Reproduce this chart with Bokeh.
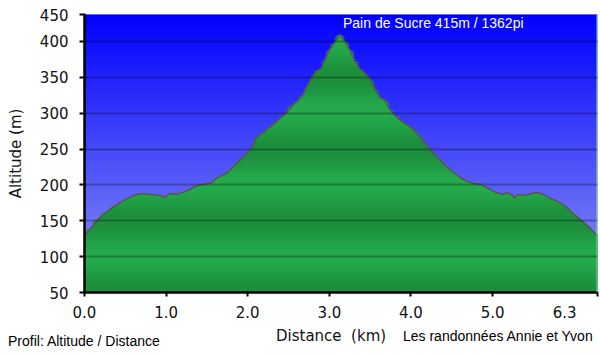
import numpy as np
from bokeh.plotting import figure
from bokeh.layouts import column
from bokeh.models import Range1d, FixedTicker, Label, Span, Div
from bokeh.embed import file_html
from bokeh.resources import INLINE

# ---------------- data ----------------
distance_km = [0.00, 0.08, 0.17, 0.28, 0.38, 0.46, 0.54, 0.62, 0.69, 0.79,
               0.88, 0.95, 0.99, 1.03, 1.06, 1.12, 1.16, 1.24, 1.31, 1.38,
               1.47, 1.56, 1.61, 1.70, 1.77, 1.85, 1.93, 2.00, 2.06, 2.10,
               2.17, 2.23, 2.30, 2.37, 2.43, 2.47, 2.55, 2.62, 2.68, 2.72,
               2.76, 2.80, 2.84, 2.90, 2.95, 3.00, 3.06, 3.13, 3.19, 3.25,
               3.31, 3.37, 3.44, 3.50, 3.56, 3.62, 3.68, 3.74, 3.80, 3.87,
               3.93, 3.99, 4.05, 4.11, 4.17, 4.22, 4.27, 4.32, 4.38, 4.44,
               4.50, 4.56, 4.62, 4.69, 4.77, 4.85, 4.92, 4.98, 5.05, 5.12,
               5.18, 5.24, 5.27, 5.30, 5.38, 5.45, 5.53, 5.59, 5.65, 5.71,
               5.78, 5.84, 5.90, 5.96, 6.02, 6.08, 6.15, 6.21, 6.25, 6.29]
altitude_m = [130, 140, 152, 163, 171, 177, 182, 186, 188, 187,
              186, 185, 182, 187, 188, 187, 188, 191, 195, 199,
              201, 203, 209, 214, 219, 228, 237, 245, 254, 265,
              271, 277, 283, 290, 296, 300, 311, 318, 326, 336,
              344, 352, 359, 362, 375, 388, 398, 410, 400, 388,
              373, 362, 355, 347, 333, 322, 318, 305, 297, 290,
              285, 281, 275, 267, 258, 251, 245, 239, 232, 225,
              219, 214, 209, 205, 202, 201, 197, 193, 189, 187,
              189, 186, 182, 186, 186, 187, 189, 188, 185, 181,
              178, 174, 169, 163, 157, 151, 144, 138, 133, 129]

x_ticks = [0, 1, 2, 3, 4, 5]
x_tick_labels = ["0.0", "1.0", "2.0", "3.0", "4.0", "5.0"]
x_end = 6.285
x_end_label = "6.3"

y_ticks = [50, 100, 150, 200, 250, 300, 350, 400]
y_tick_labels = ["50", "100", "150", "200", "250", "300", "350", "400"]
y_min = 50
y_top = 437.6
y_top_label = "450"

summit_text = "Pain de Sucre 415m / 1362pi"
x_title = "Distance&nbsp;&nbsp;(km)"
y_title = "Altitude (m)"
left_note = "Profil: Altitude / Distance"
right_note = "Les randonnées Annie et Yvon"

# ---------------- main figure ----------------
p = figure(width=600, height=324, output_backend="svg", toolbar_location=None,
           x_range=Range1d(0, x_end), y_range=Range1d(y_min, y_top),
           min_border_left=84, min_border_right=3, min_border_top=14,
           min_border_bottom=31)
p.background_fill_color = "#4a50fa"
p.border_fill_color = "white"
p.outline_line_color = "#c8ccf0"
p.outline_line_width = 1

# sky gradient (decoration)
n_sky = 90
edges = np.linspace(y_min, y_top, n_sky + 1)
mids = (edges[:-1] + edges[1:]) / 2
t = 1 - (mids - y_min) / (y_top - y_min)  # 0 top .. 1 bottom
sky_colors = ["#%02x%02x%02x" % (int(145 * tt), int(152 * tt), int(255 - 12 * tt)) for tt in t]
p.quad(left=0, right=x_end, bottom=edges[:-1], top=edges[1:] + 0.8,
       fill_color=sky_colors, line_color=None)

# green terrain: stacked fills (each from its level up to the profile)
d = np.array(distance_km, dtype=float)
a = np.array(altitude_m, dtype=float)
step = 4.0
g_edges = np.arange(y_min, a.max(), step)
xs, ys, g_colors = [], [], []
dark = np.array([0x1d, 0x8e, 0x3c])
light = np.array([0x24, 0xab, 0x4c])
for lo in g_edges:
    top = np.maximum(a, lo)
    xs.append(np.concatenate([d, d[::-1]]))
    ys.append(np.concatenate([top, np.full_like(d, lo)]))
    mid = lo + step / 2
    f = 0.5 + 0.5 * np.cos(2 * np.pi * (mid - 100) / 100)
    c = dark + f * (light - dark)
    g_colors.append("#%02x%02x%02x" % tuple(int(v) for v in c))
p.patches(xs=xs, ys=ys, fill_color=g_colors, line_color=None)

p.line(d, a, line_color="#5a5452", line_width=1.5)

# grid
p.xgrid.visible = False
p.ygrid.ticker = FixedTicker(ticks=y_ticks[1:])
p.ygrid.grid_line_color = "black"
p.ygrid.grid_line_alpha = 0.28
p.ygrid.grid_line_width = 2
p.ygrid.level = "overlay"

p.add_layout(Span(location=x_end, dimension="height", line_color="#86dc96",
                  line_width=2))

# axes
p.xaxis.ticker = FixedTicker(ticks=x_ticks + [x_end])
p.xaxis.major_label_overrides = {**{tk: lb for tk, lb in zip(x_ticks, x_tick_labels)},
                                 x_end: x_end_label + "\u00a0" * 5}
p.yaxis.ticker = FixedTicker(ticks=y_ticks + [y_top])
p.yaxis.major_label_overrides = {**{tk: lb for tk, lb in zip(y_ticks, y_tick_labels)},
                                 y_top: y_top_label}

for ax in (p.xaxis, p.yaxis):
    ax.axis_line_color = "black"
    ax.axis_line_width = 2.5
    ax.major_tick_line_color = "black"
    ax.major_tick_line_width = 2
    ax.major_tick_in = 1
    ax.minor_tick_line_color = None
    ax.major_label_text_font = "DejaVu Sans"
    ax.major_label_text_font_size = "15px"
    ax.major_label_text_color = "#111111"
p.xaxis.major_tick_out = 4
p.xaxis.major_label_standoff = 7
p.yaxis.major_tick_out = 5
p.yaxis.major_label_standoff = 11

p.yaxis.axis_label = y_title
p.yaxis.axis_label_standoff = 12
p.yaxis.axis_label_text_font = "DejaVu Sans"
p.yaxis.axis_label_text_font_size = "15px"
p.yaxis.axis_label_text_font_style = "normal"
p.yaxis.axis_label_text_color = "#111111"

peak_x = float(d[int(np.argmax(a))])
p.add_layout(Label(x=peak_x, y=y_top, x_offset=3, y_offset=-8, text=summit_text,
                   text_baseline="middle", text_font="Liberation Sans",
                   text_font_size="14px", text_color="white"))

# ---------------- footer texts ----------------
span_style = "position:absolute;white-space:nowrap;line-height:18px;"
footer_html = (
    '<div style="position:relative;width:600px;height:30px;overflow:hidden;background:white;">'
    f'<span style="{span_style}left:276px;top:3px;font-family:\'DejaVu Sans\';font-size:15px;color:#111111;">{x_title}</span>'
    f'<span style="{span_style}left:403px;top:3px;font-family:\'Liberation Sans\';font-size:14px;color:#000000;">{right_note}</span>'
    f'<span style="{span_style}left:8px;top:8px;font-family:\'Liberation Sans\';font-size:14px;color:#000000;">{left_note}</span>'
    '</div>'
)
footer = Div(text=footer_html, width=600, height=30, margin=0)

layout = column(p, footer, spacing=0)
open("out.html", "w").write(file_html(layout, INLINE))
